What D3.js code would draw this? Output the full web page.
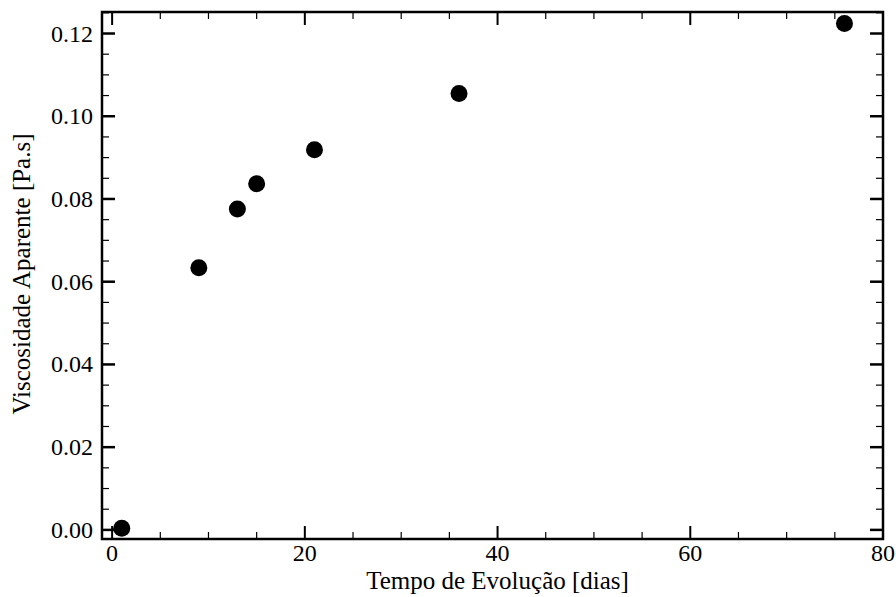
<!DOCTYPE html>
<html>
<head>
<meta charset="utf-8">
<script src="https://cdn.jsdelivr.net/npm/d3@7"></script>
<style>
  html, body { margin: 0; padding: 0; background: #fff; }
  text { font-family: "Liberation Serif", "Times New Roman", serif; fill: #000; }
</style>
</head>
<body>
<div id="chart"></div>
<script>
// dados
const dias = [1, 9, 13, 15, 21, 36, 76]
const viscosidade = [0.0004, 0.0634, 0.0776, 0.0837, 0.0919, 0.1055, 0.1224]
const xTicks = [0, 20, 40, 60, 80]
const yTicks = [0.00, 0.02, 0.04, 0.06, 0.08, 0.10, 0.12]

const width = 896, height = 597
const margin = { top: 12, right: 13, bottom: 58, left: 102 }
const innerW = width - margin.left - margin.right
const innerH = height - margin.top - margin.bottom

const svg = d3.select('#chart').append('svg')
  .attr('width', width)
  .attr('height', height)

const g = svg.append('g')
  .attr('transform', `translate(${margin.left}, ${margin.top})`)

const x = d3.scaleLinear().domain([-1.05, 80]).range([0, innerW])
const y = d3.scaleLinear().domain([-0.0022, 0.1252]).range([innerH, 0])

const xMinor = d3.range(0, 81, 5).filter(v => v % 20 !== 0)
const yMinor = d3.range(0, 0.1251, 0.005).filter(v => Math.abs(v / 0.02 - Math.round(v / 0.02)) > 1e-6)

// ticks para dentro, nos quatro lados
function tickLines (sel, vals, scale, orient, len, sw) {
  sel.selectAll(null).data(vals).enter().append('line')
    .attr('stroke', '#000')
    .attr('stroke-width', sw)
    .each(function (d) {
      const l = d3.select(this)
      const p = scale(d)
      if (orient === 'bottom') l.attr('x1', p).attr('x2', p).attr('y1', innerH).attr('y2', innerH - len)
      if (orient === 'top') l.attr('x1', p).attr('x2', p).attr('y1', 0).attr('y2', len)
      if (orient === 'left') l.attr('y1', p).attr('y2', p).attr('x1', 0).attr('x2', len)
      if (orient === 'right') l.attr('y1', p).attr('y2', p).attr('x1', innerW).attr('x2', innerW - len)
    })
}

const ticks = g.append('g').attr('id', 'ticks')
tickLines(ticks, xTicks, x, 'bottom', 13, 2)
tickLines(ticks, xTicks, x, 'top', 13, 2)
tickLines(ticks, xMinor, x, 'bottom', 7, 1.2)
tickLines(ticks, xMinor, x, 'top', 7, 1.2)
tickLines(ticks, yTicks, y, 'left', 13, 2.5)
tickLines(ticks, yTicks, y, 'right', 13, 2.5)
tickLines(ticks, yMinor, y, 'left', 7, 1.2)
tickLines(ticks, yMinor, y, 'right', 7, 1.2)

// rótulos
g.append('g').selectAll('text')
  .data(xTicks).enter().append('text')
  .attr('x', d => x(d))
  .attr('y', innerH + 22)
  .attr('text-anchor', 'middle')
  .style('font-size', '24px')
  .text(d => d)

g.append('g').selectAll('text')
  .data(yTicks).enter().append('text')
  .attr('x', -9)
  .attr('y', d => y(d) + 8)
  .attr('text-anchor', 'end')
  .style('font-size', '24px')
  .text(d => d3.format('.2f')(d))

// pontos
g.append('g').selectAll('circle')
  .data(dias.map((d, i) => [d, viscosidade[i]])).enter()
  .append('circle')
  .attr('cx', d => x(d[0]))
  .attr('cy', d => y(d[1]))
  .attr('r', 8.5)
  .attr('fill', '#000')

// moldura
g.append('rect')
  .attr('width', innerW)
  .attr('height', innerH)
  .attr('fill', 'none')
  .attr('stroke', '#000')
  .attr('stroke-width', 2.5)

svg.append('text')
  .attr('x', margin.left + x(40))
  .attr('y', 589)
  .attr('text-anchor', 'middle')
  .style('font-size', '25px')
  .text('Tempo de Evolução [dias]')

svg.append('text')
  .attr('transform', `translate(30, 274) rotate(-90)`)
  .attr('text-anchor', 'middle')
  .style('font-size', '25px')
  .text('Viscosidade Aparente [Pa.s]')
</script>
</body>
</html>
